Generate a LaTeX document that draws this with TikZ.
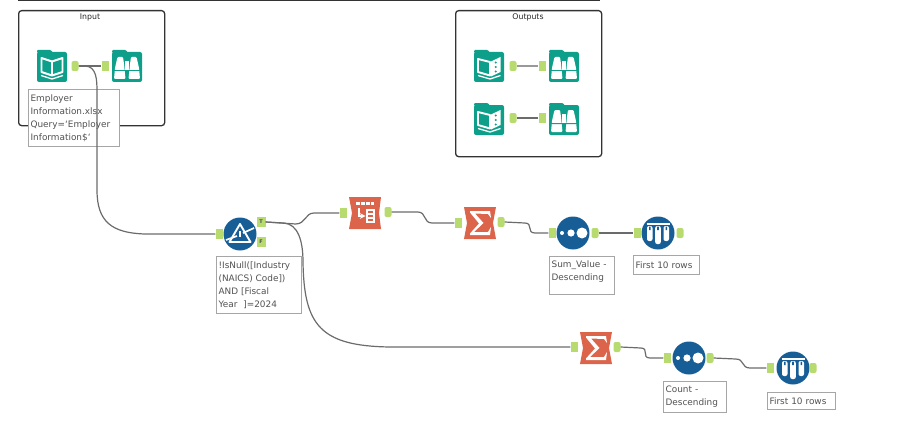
\documentclass[tikz,border=0pt]{standalone}
\usepackage{fontspec}
\setmainfont{DejaVu Sans}
\definecolor{toolteal}{HTML}{0E9F8B}
\definecolor{toolred}{HTML}{DB644A}
\definecolor{toolblue}{HTML}{175E97}
\definecolor{anchorgreen}{HTML}{B7DB6E}
\tikzset{
    inport/.style={rectangle, fill=anchorgreen, minimum width=7, minimum height=10, inner sep=0},
    outport/.style={rectangle, rounded corners=2, fill=anchorgreen, minimum width=7, minimum height=10, inner sep=0},
    flagport/.style={rectangle, fill=anchorgreen, minimum width=9, minimum height=10, inner sep=0, font=\fontsize{5}{5}\selectfont\bfseries, text=black!70},
    wire/.style={draw=black!58, line width=1.2},
    container/.style={rectangle, draw=black!80, line width=1.3, rounded corners=3, anchor=north west},
    boxtitle/.style={font=\fontsize{7.8}{9}\selectfont, text=black!85},
    comment/.style={rectangle, draw=black!35, line width=1.2, fill=white, anchor=north west, align=left, inner xsep=2, inner ysep=2,
        text=black!68, font=\fontsize{8.9}{13}\selectfont},
    tealtool/.style={rectangle, fill=toolteal, rounded corners=2, minimum size=30, inner sep=0},
    bluetool/.style={circle, fill=toolblue, minimum size=33, inner sep=0},
    % glyphs of the tools
    folderglyph/.pic={
        \fill[toolteal, rounded corners=1] (-15,-17) -- (-1,-17) -- (1,-14) -- (-15,-14) -- cycle;
    },
    bookglyph/.pic={
        \pic {folderglyph};
        \draw[white, line width=1.9, line join=round] (-10.5,-9) -- (0,-5.5) -- (10.5,-9) -- (10.5,5) -- (0,8.5) -- (-10.5,5) -- cycle (0,-5.5) -- (0,8.5);
        \draw[white, line width=1.3] (-11,8.5) -- (0,12) -- (11,8.5);
    },
    outbookglyph/.pic={
        \pic {folderglyph};
        \draw[white, line width=1.9, line join=round] (-11,-8) -- (1,-5) -- (1,8.5) -- (-11,5) -- cycle;
        \fill[white] (2,-5.5) -- (11.5,-10) -- (11.5,5) -- (2,9.5) -- cycle;
        \fill[toolteal] (6.7,-4.5) circle (1.2) (6.7,0) circle (1.2) (6.7,4.5) circle (1.2);
        \draw[white, line width=1.3] (-11,8.5) -- (1,12) -- (11.5,8.5);
    },
    browseglyph/.pic={
        \pic {folderglyph};
        \fill[white, rounded corners=1] (-9.5,-10) -- (-4,-10) -- (-3,-3) -- (-1.5,12) -- (-13,12) -- (-12,1) -- cycle;
        \fill[white, rounded corners=1] (9.5,-10) -- (4,-10) -- (3,-3) -- (1.5,12) -- (13,12) -- (12,1) -- cycle;
        \fill[white] (-2,-6) rectangle (2,3);
        \fill[toolteal] (-13,3.2) rectangle (-1.5,4) (1.5,3.2) rectangle (13,4);
    },
    filterglyph/.pic={
        \draw[white, line width=1.9, line join=round] (0,-10) -- (-10.5,8) -- (10.5,8) -- cycle;
        \draw[white, line width=1.7] (-14,6) -- (-3,2);
        \draw[white, line width=1.7] (3,-1) -- (14,-6);
        \draw[white, line width=1.2] (0,-3) -- (0,3);
    },
    selectglyph/.pic={
        \fill[toolred, line join=round] (-16,-16) -- (16,-16) -- (14,0) -- (16,16) -- (-16,16) -- (-13,0) -- cycle;
        \fill[white] (-9,-11) rectangle (9,-8);
        \fill[toolred] (-5,-11) rectangle (-4.2,-8) (0,-11) rectangle (0.8,-8) (5,-11) rectangle (5.8,-8);
        \draw[white, line width=1.5, ->, >=stealth] (-6,-5) -- (-6,3) -- (0.5,3);
        \draw[white, line width=1.1] (2,-3) rectangle (9,9) (2,1) -- (9,1) (2,5) -- (9,5);
    },
    sumglyph/.pic={
        \fill[toolred, line join=round] (-16,-16) -- (16,-16) -- (13,0) -- (16,16) -- (-16,16) -- (-13,0) -- cycle;
        \fill[white] (-10,-12) -- (10,-12) -- (11,-5) -- (8,-9) -- (-5,-9.5) -- (3.5,0) -- (-6,9) -- (8,9) -- (11,4) -- (10,12) -- (-10,12) -- (-10,10.5) -- (-1,0.5) -- (-10,-10.5) -- cycle;
    },
    sortglyph/.pic={
        \fill[white] (-11,0) circle (2) (-2,0) circle (3.6) (9,0) circle (5.5);
    },
    sampleglyph/.pic={
        \draw[white, line width=1.2] (-11.5,-9) -- (11.5,-9);
        \fill[white, rounded corners=2] (-11,-7) rectangle (-5.5,8) (-2.8,-7) rectangle (2.8,11) (5.5,-7) rectangle (11,8);
        \fill[toolblue] (-9,-6.5) rectangle (-7.5,-3) (-0.8,-6.5) rectangle (0.8,-3) (7.5,-6.5) rectangle (9,-3);
    }
}
\begin{document}
\begin{tikzpicture}[x=1pt, y=-1pt]
    \useasboundingbox (0,0) rectangle (916,444);
    \draw[black!80, line width=2] (18,0) -- (600,0);

    % containers
    \node[container, minimum width=146, minimum height=115] at (18,10) (inputbox) {};
    \node[boxtitle] at (90,17) (inputtitle) {Input};
    \node[container, minimum width=146, minimum height=146] at (455,10) (outputbox) {};
    \node[boxtitle] at (528,17) (outputtitle) {Outputs};

    % comments
    \node[comment, text width=87, minimum height=57] at (28,89) (inputnote) {Employer\\Information.xlsx\\Query=`Employer\\Information\$`};
    \node[comment, text width=81, minimum height=57] at (216,256) (filternote) {!IsNull([Industry\\(NAICS) Code])\\AND [Fiscal\\Year\ \ ]=2024};
    \node[comment, text width=61, inner ysep=4] at (549,256) (sortnote) {Sum\_Value -\\Descending\rule[-10pt]{0pt}{0pt}};
    \node[comment, text width=62, minimum height=19] at (633,255) (samplenote) {First 10 rows};
    \node[comment, text width=59, minimum height=31] at (663,381) (countnote) {Count -\\Descending};
    \node[comment, text width=64, minimum height=17] at (767,392) (lastnote) {First 10 rows};

    % input tools
    \node[tealtool] at (52,67) (inbook) {};
    \pic at (inbook) {bookglyph};
    \node[outport] at (75,66) (inbookout) {};
    \node[inport] at (105,66) (inbrowsein) {};
    \node[tealtool] at (127,67) (inbrowse) {};
    \pic at (inbrowse) {browseglyph};

    % output tools
    \node[tealtool] at (489,67) (outbooka) {};
    \pic at (outbooka) {outbookglyph};
    \node[outport] at (513,66) (outbookaout) {};
    \node[inport] at (542,66) (browseain) {};
    \node[tealtool] at (564,67) (browsea) {};
    \pic at (browsea) {browseglyph};
    \node[tealtool] at (489,120) (outbookb) {};
    \pic at (outbookb) {outbookglyph};
    \node[outport] at (513,118) (outbookbout) {};
    \node[inport] at (542,118) (browsebin) {};
    \node[tealtool] at (564,120) (browseb) {};
    \pic at (browseb) {browseglyph};

    % filter
    \node[bluetool] at (240,234) (filter) {};
    \pic at (filter) {filterglyph};
    \node[inport] at (219,234) (filterin) {};
    \node[flagport] at (261,222) (filtertrue) {T};
    \node[flagport] at (261,242) (filterfalse) {F};

    % upper branch
    \pic at (365,213) {selectglyph};
    \node[inport] at (343,213) (selectin) {};
    \node[outport] at (388,212) (selectout) {};
    \pic at (480,223) {sumglyph};
    \node[inport] at (458,223) (sumain) {};
    \node[outport] at (501,222) (sumaout) {};
    \node[bluetool] at (573,233) (sorta) {};
    \pic at (sorta) {sortglyph};
    \node[inport] at (552,233) (sortain) {};
    \node[outport] at (595,233) (sortaout) {};
    \node[bluetool] at (658,233) (samplea) {};
    \pic at (samplea) {sampleglyph};
    \node[inport] at (637,233) (sampleain) {};
    \node[outport] at (680,233) (sampleaout) {};

    % lower branch
    \pic at (596,348) {sumglyph};
    \node[inport] at (574,347) (sumbin) {};
    \node[outport] at (617,347) (sumbout) {};
    \node[bluetool] at (689,358) (sortb) {};
    \pic at (sortb) {sortglyph};
    \node[inport] at (667,358) (sortbin) {};
    \node[outport] at (710,358) (sortbout) {};
    \node[bluetool] at (793,368) (sampleb) {};
    \pic at (sampleb) {sampleglyph};
    \node[inport] at (770,368) (samplebin) {};
    \node[outport] at (813,368) (samplebout) {};

    % wires
    \draw[wire] (inbookout) -- (inbrowsein);
    \draw[wire, draw=black!40, line width=1.5] (outbookaout) -- (browseain);
    \draw[wire] (outbookbout) -- (browsebin);
    \draw[wire] (inbookout.east) -- ++(6,0) .. controls +(12,0) and +(0,-12) .. (97,92) -- (97,190) .. controls (97,222) and (112,233) .. (145,234) -- (filterin.west);
    \draw[wire] (filtertrue.east) -- ++(30,2) .. controls +(10,0) and +(-9,0) .. (314,213) -- (selectin.west);
    \draw[wire] (filtertrue.east) -- ++(18,1) .. controls +(14,1) and +(0,-22) .. (303,262) .. controls (304,325) and (320,346) .. (390,347) -- (sumbin.west);
    \draw[wire] (selectout.east) -- ++(26,0) .. controls +(9,0) and +(-9,0) .. (432,223) -- (sumain.west);
    \draw[wire] (sumaout.east) -- ++(20,1) .. controls +(9,0) and +(-9,0) .. (535,233) -- (sortain.west);
    \draw[wire] (sortaout) -- (sampleain);
    \draw[wire] (sumbout.east) -- ++(20,1) .. controls +(9,0) and +(-9,0) .. (650,358) -- (sortbin.west);
    \draw[wire] (sortbout.east) -- ++(22,1) .. controls +(9,0) and +(-9,0) .. (750,368) -- (samplebin.west);
\end{tikzpicture}
\end{document}
